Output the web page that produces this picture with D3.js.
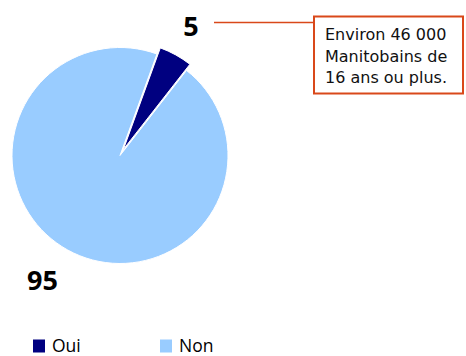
<!DOCTYPE html>
<html>
<head>
<meta charset="utf-8">
<script src="https://cdn.jsdelivr.net/npm/d3@7"></script>
<style>
  html, body { margin: 0; padding: 0; background: #fff; }
  svg { display: block; font-family: "Open Sans", "Noto Sans", sans-serif; }
</style>
</head>
<body>
<svg id="chart" width="466" height="356"></svg>
<script>
// Share of respondents (%)
const categories = ["Oui", "Non"];
const values = [5, 95];
const colors = ["#000080", "#99ccff"];
const noteLines = ["Environ 46 000", "Manitobains de", "16 ans ou plus."];

const svg = d3.select("#chart");
const cx = 120, cy = 155.5, radius = 108;
const startRot = 20 * Math.PI / 180;

const pie = d3.pie().sort(null).value(d => d.value)
  .startAngle(startRot).endAngle(startRot + 2 * Math.PI);
const data = categories.map((c, i) => ({ name: c, value: values[i], color: colors[i] }));
const arcs = pie(data);
const arc = d3.arc().innerRadius(0).outerRadius(radius);

const g = svg.append("g").attr("transform", `translate(${cx},${cy})`);
const explode = [7, 0];

g.selectAll("path.slice").data(arcs).enter().append("path")
  .attr("class", "slice")
  .attr("d", arc)
  .attr("fill", d => d.data.color)
  .attr("stroke", "#fff")
  .attr("stroke-width", 1)
  .attr("transform", (d, i) => {
    const mid = (d.startAngle + d.endAngle) / 2;
    const o = explode[i];
    return `translate(${o * Math.sin(mid)},${-o * Math.cos(mid)})`;
  });

// value labels
svg.append("text").attr("x", 191).attr("y", 36).attr("text-anchor", "middle")
  .attr("font-size", 27).attr("font-weight", "bold").attr("fill", "#000")
  .text(values[0]);
svg.append("text").attr("x", 42.5).attr("y", 290).attr("text-anchor", "middle")
  .attr("font-size", 27).attr("font-weight", "bold").attr("fill", "#000")
  .text(values[1]);

// callout
const accent = "#d9481a";
svg.append("line").attr("x1", 214).attr("x2", 313).attr("y1", 22.5).attr("y2", 22.5)
  .attr("stroke", accent).attr("stroke-width", 1.5);
svg.append("rect").attr("x", 314).attr("y", 16.5).attr("width", 149).attr("height", 77)
  .attr("fill", "#fff").attr("stroke", accent).attr("stroke-width", 2);
svg.append("text").attr("x", 325).attr("y", 40).attr("font-size", 16)
  .attr("font-family", "'DejaVu Sans', sans-serif").attr("fill", "#111")
  .selectAll("tspan").data(noteLines).enter().append("tspan")
  .attr("x", 325).attr("dy", (d, i) => i === 0 ? 0 : 21.7).text(d => d);

// legend
const legendX = [33, 160];
const lg = svg.selectAll("g.legend").data(data).enter().append("g")
  .attr("class", "legend")
  .attr("transform", (d, i) => `translate(${legendX[i]},339.5)`);
lg.append("rect").attr("width", 12).attr("height", 13).attr("fill", d => d.color);
lg.append("text").attr("x", 19).attr("y", 12.5).attr("font-size", 17.5).attr("fill", "#000")
  .text(d => d.name);
</script>
</body>
</html>
